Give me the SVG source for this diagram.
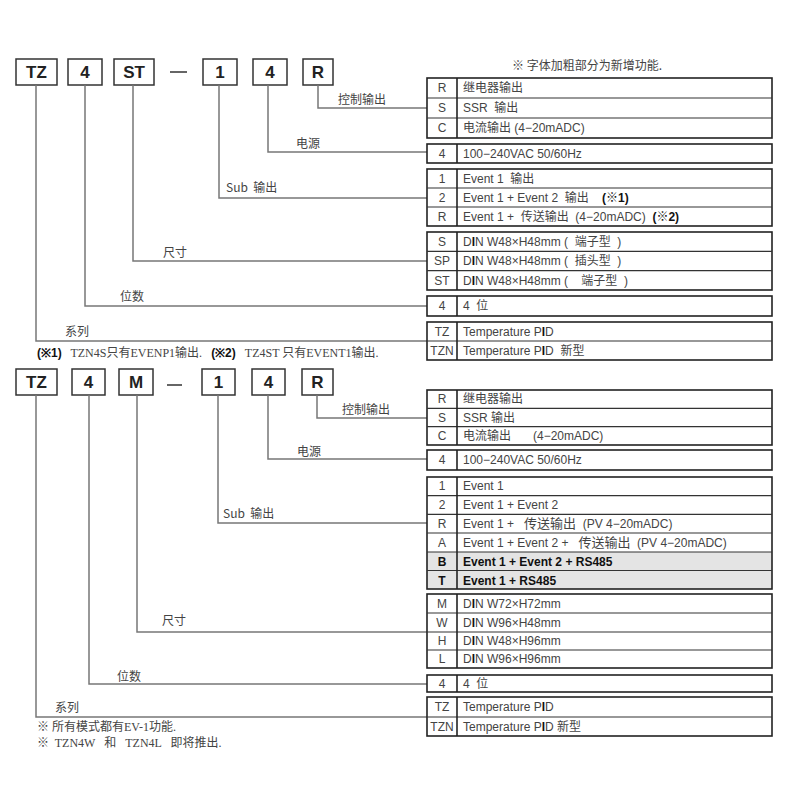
<svg xmlns="http://www.w3.org/2000/svg" width="800" height="800" viewBox="0 0 800 800">
<style>
text{white-space:pre}
.bg{fill:#fff}
.box{fill:#fff;stroke:#333;stroke-width:1.5}
.bt{font-family:"Liberation Sans",Arial,sans-serif;font-weight:bold;font-size:17px;fill:#222;text-anchor:middle}
.tb{fill:none;stroke:#222;stroke-width:1.6}
.rl{stroke:#333;stroke-width:1.2}
.sh{fill:#e4e4e4}
.k{font-family:"Liberation Sans","Noto Sans CJK SC",sans-serif;font-size:12px;fill:#444;text-anchor:middle}
.v{font-family:"Liberation Sans","Noto Sans CJK SC",sans-serif;font-size:12px;fill:#444}
.bd{font-weight:bold;fill:#111}
.lb{font-family:"Noto Sans CJK SC","Liberation Sans",sans-serif;font-size:12px;fill:#444}
.cn{fill:none;stroke:#777;stroke-width:1.5}
.nt{font-family:"Liberation Serif","Noto Sans CJK SC",serif;font-size:12px;fill:#444}
</style>
<rect class="bg" x="0" y="0" width="800" height="800"/>

<text class="lb" x="512" y="70" font-size="12.5">※ 字体加粗部分为新增功能.</text>

<!-- top code boxes -->
<g id="top-code">
<g id="t-TZ"><rect class="box" x="16" y="59" width="41" height="26"/><text class="bt" x="36.5" y="78">TZ</text></g>
<g id="t-4a"><rect class="box" x="68" y="59" width="34" height="26"/><text class="bt" x="85" y="78">4</text></g>
<g id="t-ST"><rect class="box" x="114" y="59" width="40" height="26"/><text class="bt" x="134" y="78">ST</text></g>
<line x1="170" y1="72" x2="187" y2="72" stroke="#333" stroke-width="1.5"/>
<g id="t-1"><rect class="box" x="203" y="59" width="34" height="26"/><text class="bt" x="220" y="78">1</text></g>
<g id="t-4b"><rect class="box" x="253" y="59" width="34" height="26"/><text class="bt" x="270" y="78">4</text></g>
<g id="t-R"><rect class="box" x="303" y="59" width="30" height="26"/><text class="bt" x="318" y="78">R</text></g>
</g>

<g id="top-connectors">
<polyline class="cn" points="318,85 318,108 427,108"/>
<polyline class="cn" points="268,85 268,152 427,152"/>
<polyline class="cn" points="219,85 219,198 427,198"/>
<polyline class="cn" points="133,85 133,261 427,261"/>
<polyline class="cn" points="85,85 85,306 427,306"/>
<polyline class="cn" points="36,85 36,341 427,341"/>
<text class="lb" x="338" y="104">控制输出</text>
<text class="lb" x="296" y="148">电源</text>
<text class="lb" x="226" y="192">Sub  输出</text>
<text class="lb" x="163" y="257">尺寸</text>
<text class="lb" x="120" y="301">位数</text>
<text class="lb" x="65" y="336">系列</text>
</g>

<!-- top tables -->
<g id="t-out">
<rect class="tb" x="427" y="78" width="345" height="60"/>
<line class="rl" x1="427" y1="98" x2="772" y2="98"/><line class="rl" x1="427" y1="118" x2="772" y2="118"/>
<line class="tb" x1="457" y1="78" x2="457" y2="138"/>
<text class="k" x="442" y="92">R</text><text class="v" x="463" y="92">继电器输出</text>
<text class="k" x="442" y="112">S</text><text class="v" x="463" y="112">SSR  输出</text>
<text class="k" x="442" y="132">C</text><text class="v" x="463" y="132">电流输出 (4−20mADC)</text>
</g>
<g id="t-pow">
<rect class="tb" x="427" y="144" width="345" height="19"/>
<line class="tb" x1="457" y1="144" x2="457" y2="163"/>
<text class="k" x="442" y="157.5">4</text><text class="v" x="463" y="157.5">100−240VAC 50/60Hz</text>
</g>
<g id="t-sub">
<rect class="tb" x="427" y="169" width="345" height="57"/>
<line class="rl" x1="427" y1="188" x2="772" y2="188"/><line class="rl" x1="427" y1="207" x2="772" y2="207"/>
<line class="tb" x1="457" y1="169" x2="457" y2="226"/>
<text class="k" x="442" y="182.5">1</text><text class="v" x="463" y="182.5">Event 1  输出</text>
<text class="k" x="442" y="201.5">2</text><text class="v" x="463" y="201.5">Event 1 + Event 2  输出    <tspan class="bd">(※1)</tspan></text>
<text class="k" x="442" y="220.5">R</text><text class="v" x="463" y="220.5">Event 1 +  传送输出  (4−20mADC)  <tspan class="bd">(※2)</tspan></text>
</g>
<g id="t-size">
<rect class="tb" x="427" y="232" width="345" height="58"/>
<line class="rl" x1="427" y1="251.3" x2="772" y2="251.3"/><line class="rl" x1="427" y1="270.7" x2="772" y2="270.7"/>
<line class="tb" x1="457" y1="232" x2="457" y2="290"/>
<text class="k" x="442" y="245.5">S</text><text class="v" x="463" y="245.5">D<tspan class="bd">I</tspan>N W48×H48mm (  端子型  )</text>
<text class="k" x="442" y="265">SP</text><text class="v" x="463" y="265">D<tspan class="bd">I</tspan>N W48×H48mm (  插头型  )</text>
<text class="k" x="442" y="284.5">ST</text><text class="v" x="463" y="284.5">D<tspan class="bd">I</tspan>N W48×H48mm (    端子型  )</text>
</g>
<g id="t-dig">
<rect class="tb" x="427" y="296" width="345" height="20"/>
<line class="tb" x1="457" y1="296" x2="457" y2="316"/>
<text class="k" x="442" y="310">4</text><text class="v" x="463" y="310">4  位</text>
</g>
<g id="t-ser">
<rect class="tb" x="427" y="322" width="345" height="38"/>
<line class="rl" x1="427" y1="341" x2="772" y2="341"/>
<line class="tb" x1="457" y1="322" x2="457" y2="360"/>
<text class="k" x="442" y="335.5">TZ</text><text class="v" x="463" y="335.5">Temperature P<tspan class="bd">I</tspan>D</text>
<text class="k" x="442" y="354.5">TZN</text><text class="v" x="463" y="354.5">Temperature P<tspan class="bd">I</tspan>D  新型</text>
</g>

<text class="nt" x="37" y="357"><tspan class="bd" font-family="Liberation Sans,sans-serif">(※1)</tspan>   TZN4S只有EVENP1输出.   <tspan class="bd" font-family="Liberation Sans,sans-serif">(※2)</tspan>   TZ4ST 只有EVENT1输出.</text>

<!-- bottom code boxes -->
<g id="bottom-code">
<g id="b-TZ"><rect class="box" x="16" y="369" width="41" height="26"/><text class="bt" x="36.5" y="388">TZ</text></g>
<g id="b-4a"><rect class="box" x="72" y="369" width="33" height="26"/><text class="bt" x="88.5" y="388">4</text></g>
<g id="b-M"><rect class="box" x="119" y="369" width="34" height="26"/><text class="bt" x="136" y="388">M</text></g>
<line x1="167" y1="385" x2="182" y2="385" stroke="#333" stroke-width="1.5"/>
<g id="b-1"><rect class="box" x="202" y="369" width="33" height="26"/><text class="bt" x="218.5" y="388">1</text></g>
<g id="b-4b"><rect class="box" x="252" y="369" width="33" height="26"/><text class="bt" x="268.5" y="388">4</text></g>
<g id="b-R"><rect class="box" x="302" y="369" width="31" height="26"/><text class="bt" x="317.5" y="388">R</text></g>
</g>

<g id="bottom-connectors">
<polyline class="cn" points="317,395 317,418 427,418"/>
<polyline class="cn" points="268,395 268,459 427,459"/>
<polyline class="cn" points="218,395 218,523 427,523"/>
<polyline class="cn" points="137,395 137,632 427,632"/>
<polyline class="cn" points="89,395 89,684 427,684"/>
<polyline class="cn" points="36,395 36,717 427,717"/>
<text class="lb" x="342" y="414">控制输出</text>
<text class="lb" x="297" y="456">电源</text>
<text class="lb" x="223" y="518">Sub  输出</text>
<text class="lb" x="162" y="625">尺寸</text>
<text class="lb" x="117" y="681">位数</text>
<text class="lb" x="55" y="712">系列</text>
</g>

<g id="b-out">
<rect class="tb" x="427" y="390" width="345" height="55"/>
<line class="rl" x1="427" y1="408.3" x2="772" y2="408.3"/><line class="rl" x1="427" y1="426.7" x2="772" y2="426.7"/>
<line class="tb" x1="457" y1="390" x2="457" y2="445"/>
<text class="k" x="442" y="403">R</text><text class="v" x="463" y="403">继电器输出</text>
<text class="k" x="442" y="421.5">S</text><text class="v" x="463" y="421.5">SSR 输出</text>
<text class="k" x="442" y="440">C</text><text class="v" x="463" y="440">电流输出<tspan dx="22">(4−20mADC)</tspan></text>
</g>
<g id="b-pow">
<rect class="tb" x="427" y="450" width="345" height="20"/>
<line class="tb" x1="457" y1="450" x2="457" y2="470"/>
<text class="k" x="442" y="464">4</text><text class="v" x="463" y="464">100−240VAC 50/60Hz</text>
</g>
<g id="b-sub">
<rect class="sh" x="427" y="552" width="345" height="37"/>
<rect class="tb" x="427" y="477" width="345" height="112"/>
<line class="rl" x1="427" y1="495.7" x2="772" y2="495.7"/>
<line class="rl" x1="427" y1="514.3" x2="772" y2="514.3"/>
<line class="rl" x1="427" y1="533" x2="772" y2="533"/>
<line class="rl" x1="427" y1="552" x2="772" y2="552"/>
<line class="rl" x1="427" y1="570.5" x2="772" y2="570.5"/>
<line class="tb" x1="457" y1="477" x2="457" y2="589"/>
<text class="k" x="442" y="490">1</text><text class="v" x="463" y="490">Event 1</text>
<text class="k" x="442" y="509">2</text><text class="v" x="463" y="509">Event 1 + Event 2</text>
<text class="k" x="442" y="527.5">R</text><text class="v" x="463" y="527.5">Event 1 +   <tspan font-size="13">传送输出</tspan>  (PV 4−20mADC)</text>
<text class="k" x="442" y="546.5">A</text><text class="v" x="463" y="546.5">Event 1 + Event 2 +   <tspan font-size="13">传送输出</tspan>  (PV 4−20mADC)</text>
<text class="k bd" x="442" y="566">B</text><text class="v bd" x="463" y="566" font-size="12.5">Event 1 + Event 2 + RS485</text>
<text class="k bd" x="442" y="584.5">T</text><text class="v bd" x="463" y="584.5" font-size="12.5">Event 1 + RS485</text>
</g>
<g id="b-size">
<rect class="tb" x="427" y="594" width="345" height="74"/>
<line class="rl" x1="427" y1="613" x2="772" y2="613"/>
<line class="rl" x1="427" y1="632" x2="772" y2="632"/>
<line class="rl" x1="427" y1="650" x2="772" y2="650"/>
<line class="tb" x1="457" y1="594" x2="457" y2="668"/>
<text class="k" x="442" y="607.5">M</text><text class="v" x="463" y="607.5">D<tspan class="bd">I</tspan>N W72×H72mm</text>
<text class="k" x="442" y="626.5">W</text><text class="v" x="463" y="626.5">D<tspan class="bd">I</tspan>N W96×H48mm</text>
<text class="k" x="442" y="645">H</text><text class="v" x="463" y="645">D<tspan class="bd">I</tspan>N W48×H96mm</text>
<text class="k" x="442" y="663">L</text><text class="v" x="463" y="663">D<tspan class="bd">I</tspan>N W96×H96mm</text>
</g>
<g id="b-dig">
<rect class="tb" x="427" y="675" width="345" height="17"/>
<line class="tb" x1="457" y1="675" x2="457" y2="692"/>
<text class="k" x="442" y="688">4</text><text class="v" x="463" y="688">4  位</text>
</g>
<g id="b-ser">
<rect class="tb" x="427" y="697" width="345" height="39"/>
<line class="rl" x1="427" y1="717" x2="772" y2="717"/>
<line class="tb" x1="457" y1="697" x2="457" y2="736"/>
<text class="k" x="442" y="711">TZ</text><text class="v" x="463" y="711">Temperature P<tspan class="bd">I</tspan>D</text>
<text class="k" x="442" y="730.5">TZN</text><text class="v" x="463" y="730.5">Temperature P<tspan class="bd">I</tspan>D 新型</text>
</g>

<text class="nt" x="37" y="731">※ 所有模式都有EV-1功能.</text>
<text class="nt" x="37" y="747">※  TZN4W   和   TZN4L   即将推出.</text>
</svg>
